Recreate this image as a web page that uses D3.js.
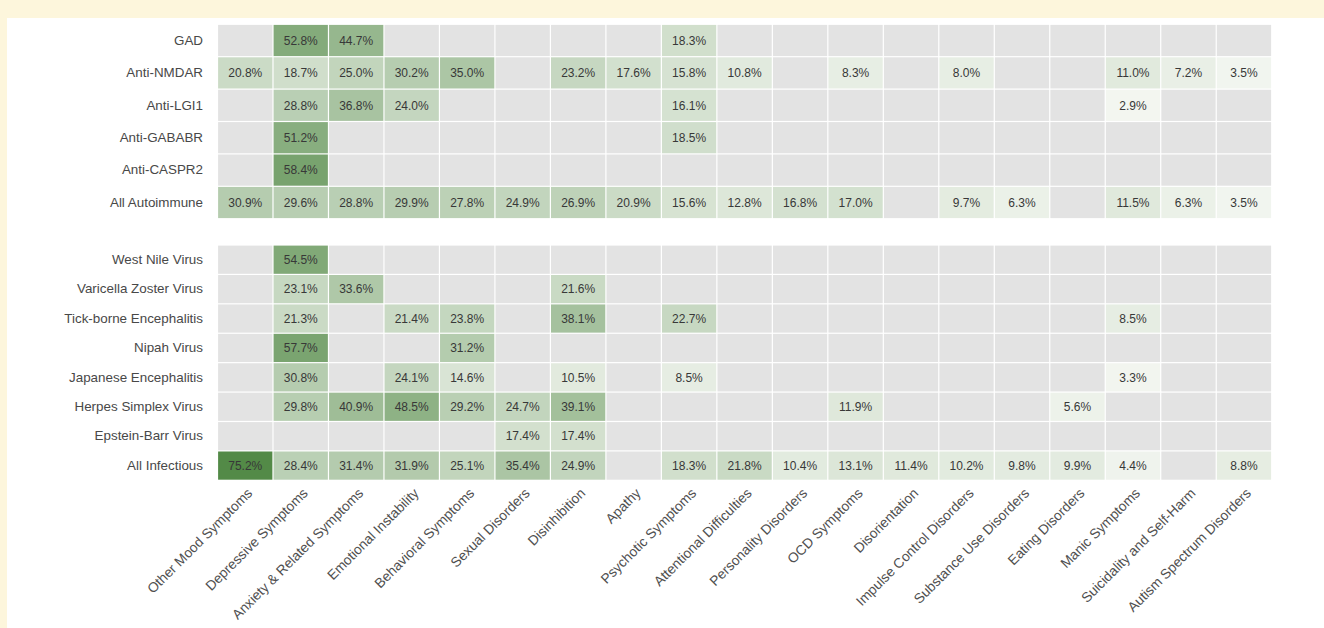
<!DOCTYPE html>
<html>
<head>
<meta charset="utf-8">
<script src="https://cdn.jsdelivr.net/npm/d3@7"></script>
<style>
  html, body { margin: 0; padding: 0; background: #fdf6dc; }
  svg { display: block; }
</style>
</head>
<body>
<svg id="chart" width="1324" height="628"></svg>
<script>
// Symptom categories (columns)
const symptoms = [
  "Other Mood Symptoms", "Depressive Symptoms", "Anxiety & Related Symptoms",
  "Emotional Instability", "Behavioral Symptoms", "Sexual Disorders",
  "Disinhibition", "Apathy", "Psychotic Symptoms", "Attentional Difficulties",
  "Personality Disorders", "OCD Symptoms", "Disorientation",
  "Impulse Control Disorders", "Substance Use Disorders", "Eating Disorders",
  "Manic Symptoms", "Suicidality and Self-Harm", "Autism Spectrum Disorders"
];

// Autoimmune encephalitis subtypes (rows, top panel)
const autoimmuneRows = ["GAD", "Anti-NMDAR", "Anti-LGI1", "Anti-GABABR", "Anti-CASPR2", "All Autoimmune"];
// Prevalence (%) per symptom; null = not reported
const autoimmuneValues = [
  [null, 52.8, 44.7, null, null, null, null, null, 18.3, null, null, null, null, null, null, null, null, null, null],
  [20.8, 18.7, 25.0, 30.2, 35.0, null, 23.2, 17.6, 15.8, 10.8, null, 8.3, null, 8.0, null, null, 11.0, 7.2, 3.5],
  [null, 28.8, 36.8, 24.0, null, null, null, null, 16.1, null, null, null, null, null, null, null, 2.9, null, null],
  [null, 51.2, null, null, null, null, null, null, 18.5, null, null, null, null, null, null, null, null, null, null],
  [null, 58.4, null, null, null, null, null, null, null, null, null, null, null, null, null, null, null, null, null],
  [30.9, 29.6, 28.8, 29.9, 27.8, 24.9, 26.9, 20.9, 15.6, 12.8, 16.8, 17.0, null, 9.7, 6.3, null, 11.5, 6.3, 3.5]
];

// Infectious encephalitis causes (rows, bottom panel)
const infectiousRows = ["West Nile Virus", "Varicella Zoster Virus", "Tick-borne Encephalitis", "Nipah Virus",
  "Japanese Encephalitis", "Herpes Simplex Virus", "Epstein-Barr Virus", "All Infectious"];
const infectiousValues = [
  [null, 54.5, null, null, null, null, null, null, null, null, null, null, null, null, null, null, null, null, null],
  [null, 23.1, 33.6, null, null, null, 21.6, null, null, null, null, null, null, null, null, null, null, null, null],
  [null, 21.3, null, 21.4, 23.8, null, 38.1, null, 22.7, null, null, null, null, null, null, null, 8.5, null, null],
  [null, 57.7, null, null, 31.2, null, null, null, null, null, null, null, null, null, null, null, null, null, null],
  [null, 30.8, null, 24.1, 14.6, null, 10.5, null, 8.5, null, null, null, null, null, null, null, 3.3, null, null],
  [null, 29.8, 40.9, 48.5, 29.2, 24.7, 39.1, null, null, null, null, 11.9, null, null, null, 5.6, null, null, null],
  [null, null, null, null, null, 17.4, 17.4, null, null, null, null, null, null, null, null, null, null, null, null],
  [75.2, 28.4, 31.4, 31.9, 25.1, 35.4, 24.9, null, 18.3, 21.8, 10.4, 13.1, 11.4, 10.2, 9.8, 9.9, 4.4, null, 8.8]
];

const svg = d3.select("#chart");
const FONT = "'Liberation Sans', Arial, Helvetica, sans-serif";

// White page area
svg.append("rect").attr("x", 7).attr("y", 18).attr("width", 1324 - 7).attr("height", 628 - 18).attr("fill", "#ffffff");

const gridLeft = 217.5, gridRight = 1271.7;
const x = d3.scaleBand().domain(symptoms).range([gridLeft, gridRight]).padding(0);

const maxVal = d3.max([...autoimmuneValues, ...infectiousValues].flat().filter(v => v != null));
const color = d3.scaleLinear().domain([0, maxVal]).range(["#f9faf7", "#538a47"]).interpolate(d3.interpolateRgb);

function panel(rows, values, top, bottom) {
  const y = d3.scaleBand().domain(rows).range([top, bottom]).padding(0);
  const g = svg.append("g");
  const cells = [];
  rows.forEach((r, i) => symptoms.forEach((s, j) => cells.push({ row: r, col: s, v: values[i][j] })));

  g.selectAll("rect.cell").data(cells).join("rect")
    .attr("class", "cell")
    .attr("x", d => x(d.col) + 0.6)
    .attr("y", d => y(d.row) + 0.6)
    .attr("width", x.bandwidth() - 1.2)
    .attr("height", y.bandwidth() - 1.2)
    .attr("fill", d => d.v == null ? "#e3e3e3" : color(d.v));

  g.selectAll("text.val").data(cells.filter(d => d.v != null)).join("text")
    .attr("class", "val")
    .attr("x", d => x(d.col) + x.bandwidth() / 2)
    .attr("y", d => y(d.row) + y.bandwidth() / 2)
    .attr("dy", "0.35em")
    .attr("text-anchor", "middle")
    .attr("font-family", FONT)
    .attr("font-size", 12)
    .attr("fill", "#383838")
    .text(d => d.v.toFixed(1) + "%");

  // Row labels
  const axis = d3.axisLeft(y).tickSize(0).tickPadding(0);
  const ag = svg.append("g").attr("transform", `translate(${203},0)`).call(axis);
  ag.select(".domain").remove();
  ag.selectAll("text").attr("font-family", FONT).attr("font-size", 13.4).attr("fill", "#484848");
  return y;
}

panel(autoimmuneRows, autoimmuneValues, 24.3, 218.7);
panel(infectiousRows, infectiousValues, 245, 480.3);

// Column labels, rotated
const xa = svg.append("g").attr("transform", "translate(0,486)")
  .call(d3.axisBottom(x).tickSize(0).tickPadding(0));
xa.select(".domain").remove();
xa.selectAll("text")
  .attr("font-family", FONT).attr("font-size", 13.8).attr("fill", "#505050")
  .attr("text-anchor", "end")
  .attr("dy", "0")
  .attr("transform", "translate(8,8) rotate(-45)");
</script>
</body>
</html>
